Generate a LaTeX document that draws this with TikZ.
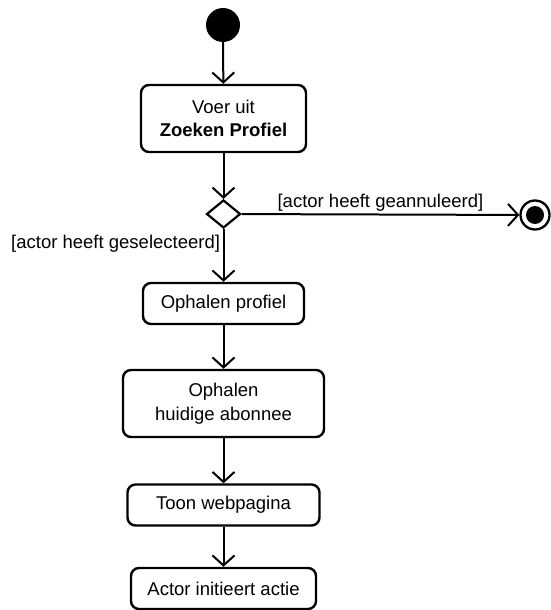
\documentclass[tikz,border=0pt]{standalone}
\usepackage{fontspec}
\setmainfont{Liberation Sans}
\usetikzlibrary{arrows.meta,shapes.geometric}
\begin{document}
\begin{tikzpicture}[x=1pt,y=-1pt,
  font=\fontsize{18.5}{23.5}\selectfont,
  activity/.style={draw,line width=2.4pt,rounded corners=8pt,align=center,inner sep=0pt,minimum height=41pt},
  flow/.style={line width=2pt,-{Straight Barb[length=10pt,width=22pt,line width=2pt]}},
  guard/.style={inner sep=2.5pt}]
\useasboundingbox (0,0) rectangle (550,610);
% start and end
\node[circle,fill,minimum size=34pt,inner sep=0pt] (start) at (223,25) {};
\node[circle,draw,line width=2.3pt,minimum size=29pt,inner sep=0pt] (stop) at (535,215) {};
\fill (stop.center) circle (9);
% activities
\node[activity,minimum width=165pt,minimum height=67pt] (zoeken) at (223.5,118.5) {Voer uit\\\textbf{Zoeken Profiel}};
\node[diamond,draw,line width=2.2pt,inner sep=0pt,minimum width=34pt,minimum height=28pt] (keuze) at (223.5,214) {};
\node[activity,minimum width=161pt] (profiel) at (223.5,303.5) {Ophalen profiel};
\node[activity,minimum width=201pt,minimum height=67pt] (abonnee) at (223.5,403.5) {Ophalen\\huidige abonnee};
\node[activity,minimum width=192pt] (toon) at (223.5,505) {Toon webpagina};
\node[activity,minimum width=185pt] (actie) at (223.5,588.5) {Actor initieert actie};
% flows
\draw[flow] (start) -- (zoeken);
\draw[flow] (zoeken) -- (keuze);
\draw[flow] (keuze) -- node[guard,above] {[actor heeft geannuleerd]} (stop);
\draw[flow] (keuze) -- node[guard,left,pos=0.27] {[actor heeft geselecteerd]} (profiel);
\draw[flow] (profiel) -- (abonnee);
\draw[flow] (abonnee) -- (toon);
\draw[flow] (toon) -- (actie);
\end{tikzpicture}
\end{document}
